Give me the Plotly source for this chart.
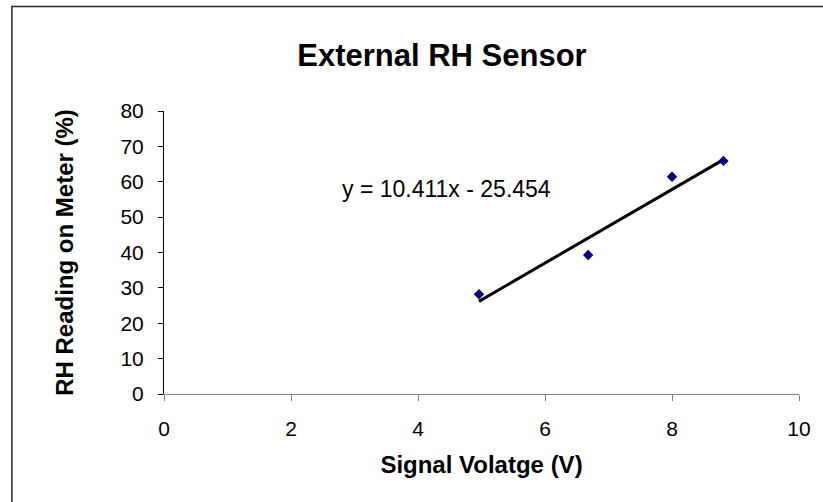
import plotly.graph_objects as go

# Data
signal_voltage = [4.96, 6.68, 8.00, 8.81]
rh_reading = [28.2, 39.3, 61.4, 65.9]

# Linear trendline coefficients as displayed on the chart
slope = 10.411
intercept = -25.454
equation_text = "y = 10.411x - 25.454"

x_ticks = [0, 2, 4, 6, 8, 10]
y_ticks = [0, 10, 20, 30, 40, 50, 60, 70, 80]

trend_x = [min(signal_voltage), max(signal_voltage)]
trend_y = [slope * v + intercept for v in trend_x]

FONT = "Liberation Sans, Arial, sans-serif"

fig = go.Figure()
fig.add_trace(go.Scatter(
    x=trend_x, y=trend_y, mode="lines",
    line=dict(color="black", width=3),
    hoverinfo="skip", showlegend=False,
))
fig.add_trace(go.Scatter(
    x=signal_voltage, y=rh_reading, mode="markers",
    marker=dict(symbol="diamond", size=8, color="#000080",
                line=dict(width=0)),
    showlegend=False,
))

fig.update_layout(
    width=823, height=502,
    margin=dict(l=164, r=19, t=111, b=108),
    paper_bgcolor="white", plot_bgcolor="white",
    font=dict(family=FONT, color="black"),
    title=dict(
        text="<b>External RH Sensor</b>",
        font=dict(family=FONT, size=31, color="black"),
        xref="container", yref="container",
        x=0.537, y=0.89, xanchor="center", yanchor="middle",
    ),
    xaxis=dict(
        range=[0, 10], tickvals=x_ticks, ticktext=[str(v) for v in x_ticks],
        showgrid=False, zeroline=False,
        showline=True, linecolor="#808080", linewidth=1.2,
        ticks="outside", ticklen=6, tickcolor="#808080", tickwidth=1,
        tickfont=dict(family=FONT, size=21, color="black"),
        ticklabelstandoff=10,
        title=dict(text="<b>Signal Volatge (V)</b>",
                   font=dict(family=FONT, size=24, color="black"),
                   standoff=16),
    ),
    yaxis=dict(
        range=[0, 80], tickvals=y_ticks, ticktext=[str(v) for v in y_ticks],
        showgrid=False, zeroline=False,
        showline=True, linecolor="black", linewidth=1,
        ticks="outside", ticklen=5, tickcolor="black", tickwidth=1,
        tickfont=dict(family=FONT, size=21, color="black"),
        ticklabelstandoff=10,
        title=dict(text="<b>RH Reading on Meter (%)</b>",
                   font=dict(family=FONT, size=24, color="black"),
                   standoff=40),
    ),
    annotations=[dict(
        x=4.456, y=58, xref="x", yref="y",
        text=equation_text, showarrow=False,
        xanchor="center", yanchor="middle",
        font=dict(family=FONT, size=23, color="black"),
    )],
    shapes=[dict(
        type="rect", xref="paper", yref="paper",
        x0=-0.2395, x1=1.05, y0=-0.45, y1=1.3696,
        line=dict(color="#222222", width=1.5),
        fillcolor="rgba(0,0,0,0)", layer="below",
    )],
)

fig.write_html("out.html")
